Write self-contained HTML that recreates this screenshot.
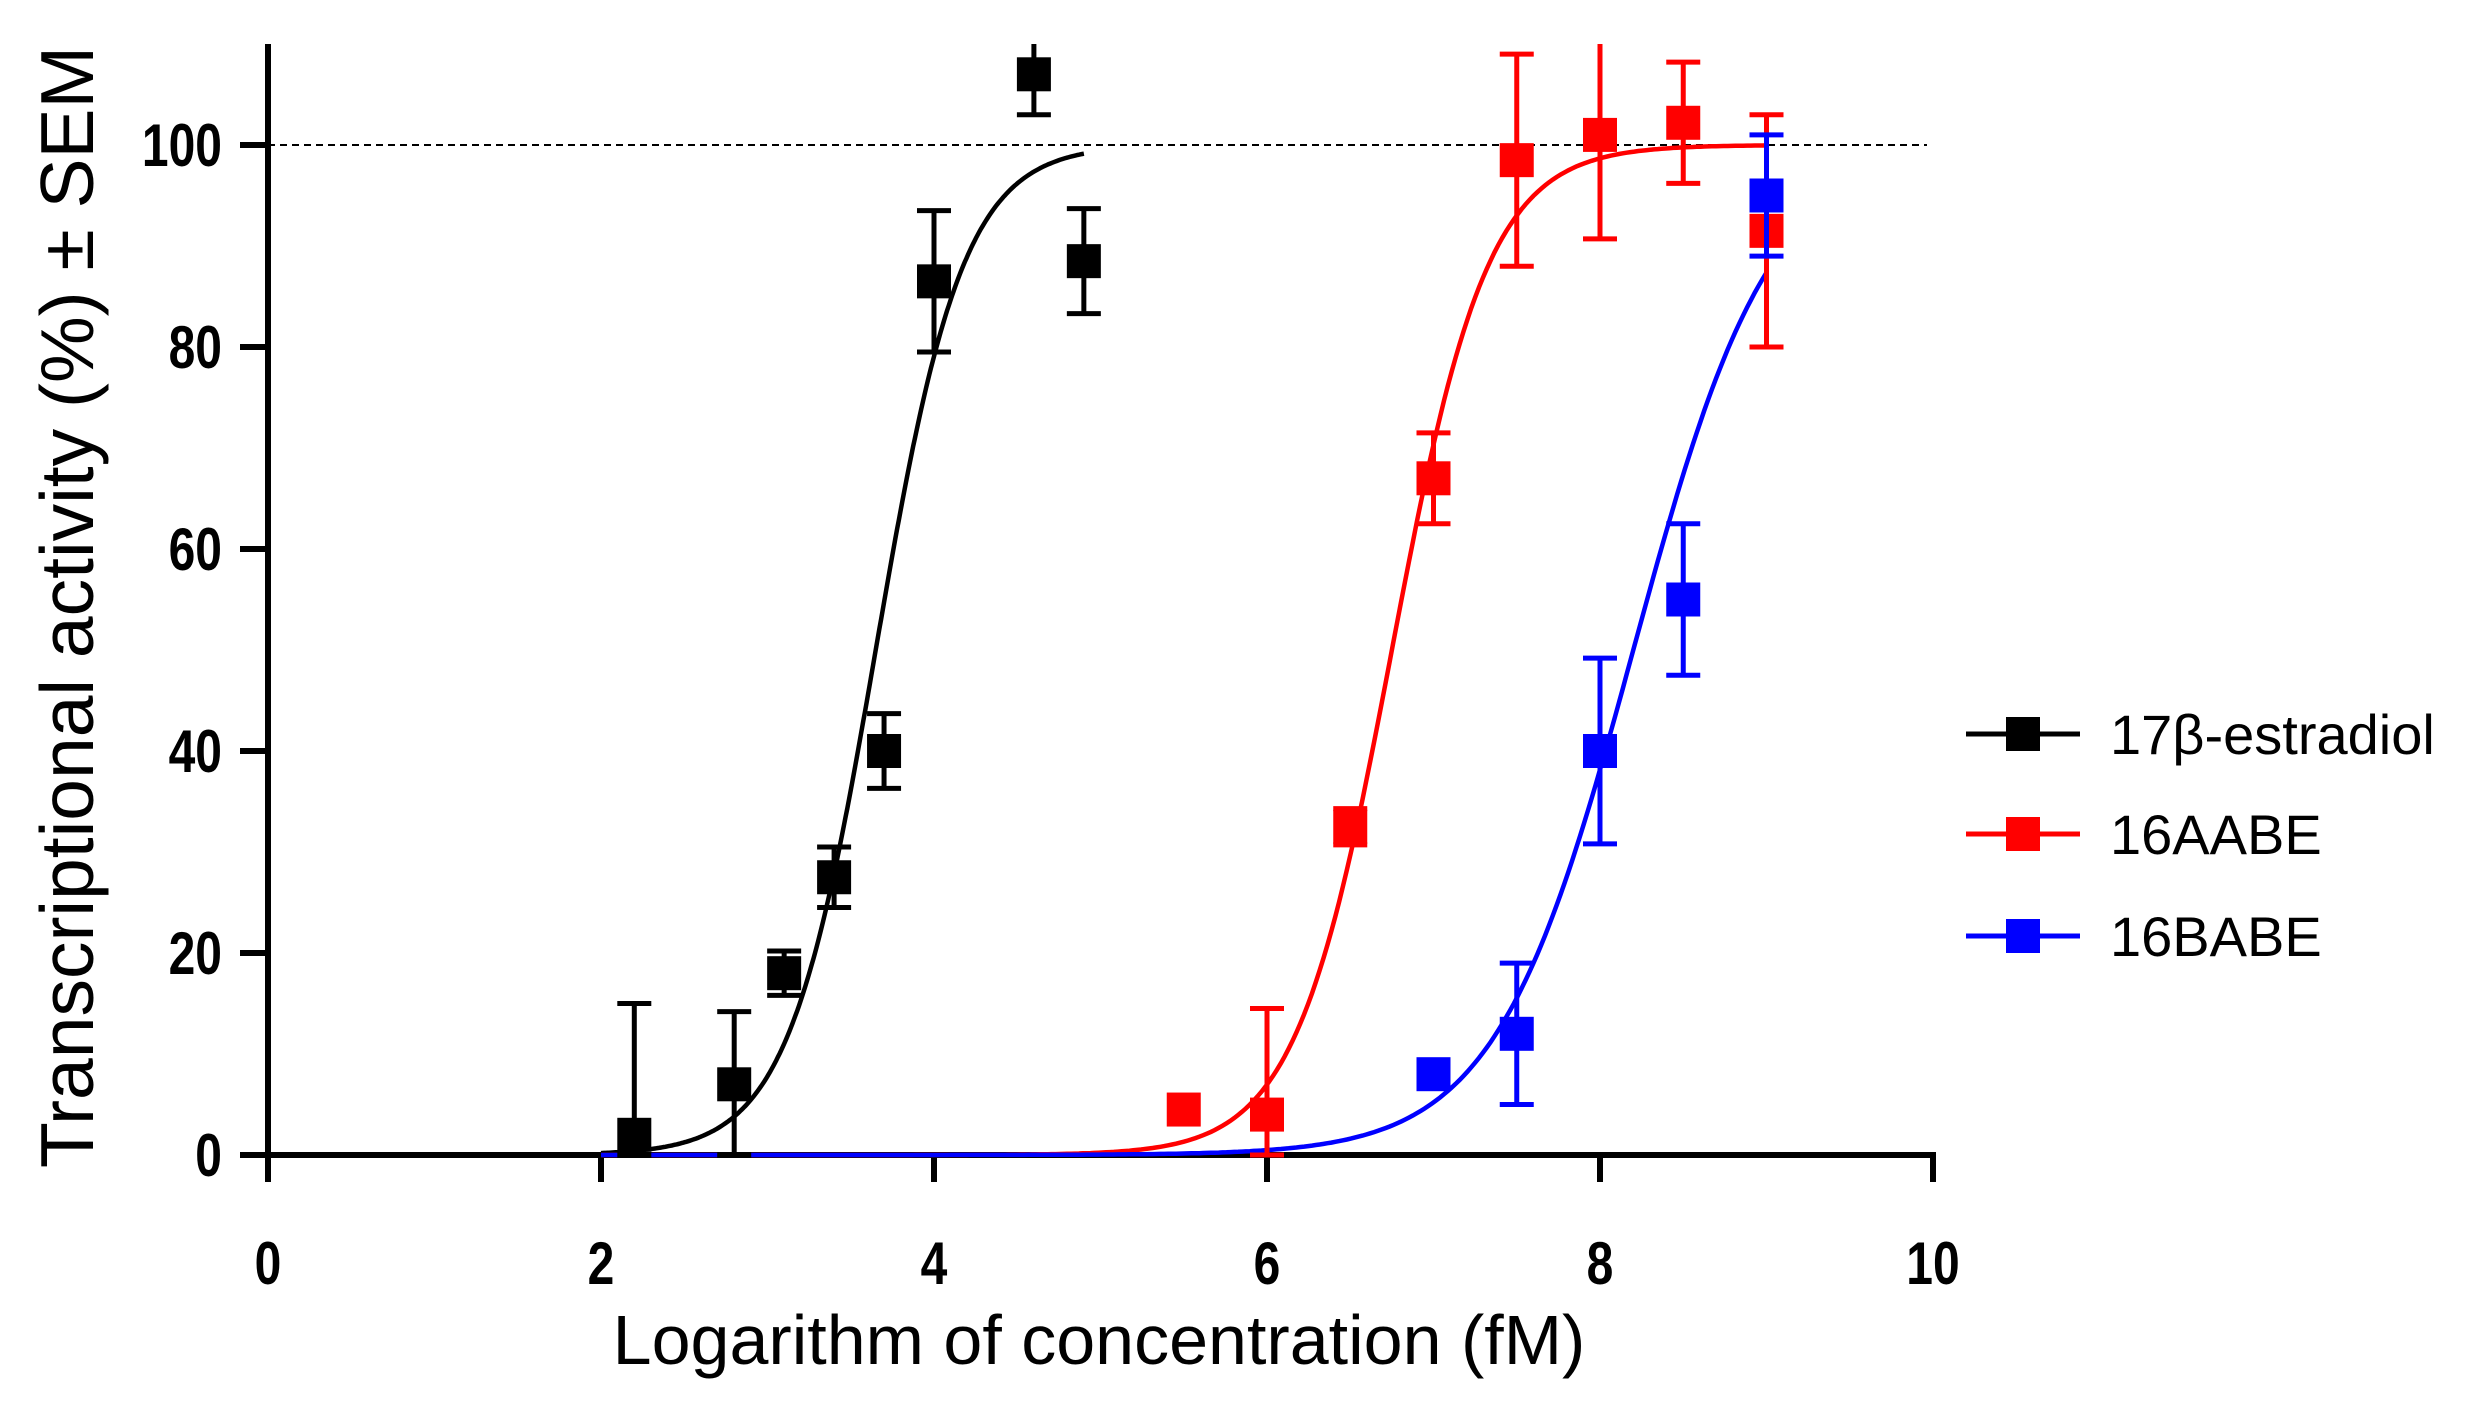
<!DOCTYPE html>
<html><head><meta charset="utf-8"><style>html,body{margin:0;padding:0;background:#fff}svg{display:block}</style></head>
<body>
<svg id="chart" width="2473" height="1402" viewBox="0 0 2473 1402" xmlns="http://www.w3.org/2000/svg" font-family="Liberation Sans, sans-serif">
<g id="axes"></g>
<g id="curves"></g>
<g id="points"></g>
<g id="legend"></g>
</svg>
<script>
const xTicks = [0, 2, 4, 6, 8, 10];
const yTicks = [0, 20, 40, 60, 80, 100];
const seriesNames = ["17β-estradiol", "16AABE", "16BABE"];
const seriesColors = ["#000000", "#ff0000", "#0000ff"];
const blackX = [2.2, 2.8, 3.1, 3.4, 3.7, 4.0, 4.6, 4.9];
const blackY = [2, 7, 18, 27.5, 40, 86.5, 107, 88.5];
const blackErr = [13, 7.2, 2.2, 3, 3.7, 7, 4, 5.2];
const redX = [5.5, 6, 6.5, 7, 7.5, 8, 8.5, 9];
const redY = [4.5, 4, 32.5, 67, 98.5, 101, 102.2, 91.5];
const redErr = [0, 10.5, 1.8, 4.5, 10.5, 10.3, 6, 11.5];
const blueX = [7, 7.5, 8, 8.5, 9];
const blueY = [8, 12, 40, 55, 95];
const blueErr = [0, 7, 9.2, 7.5, 6];
const fitEC50 = [3.65, 6.75, 8.2];
const fitHill = [1.65, 1.5, 1.05];
const fitRange = [[2, 4.9], [2, 9], [2, 9]];

const NS = "http://www.w3.org/2000/svg";
const X0 = 268, X1 = 1933, Y0 = 1155, Y100 = 145;
const sx = v => X0 + (X1 - X0) * v / 10;
const sy = v => Y0 - (Y0 - Y100) * v / 100;
function mk(tag, attrs, parent) {
  const e = document.createElementNS(NS, tag);
  for (const k in attrs) e.setAttribute(k, attrs[k]);
  parent.appendChild(e);
  return e;
}
const axes = document.getElementById('axes');
let e;
e = mk('line', {x1: sx(0), y1: sy(100), x2: 1927, y2: sy(100), stroke: '#000', 'stroke-width': 2, 'stroke-dasharray': '7,5'}, axes);


e = mk('line', {x1: X0, y1: 44, x2: X0, y2: Y0 + 3, stroke: '#000', 'stroke-width': 6}, axes);


e = mk('line', {x1: X0 - 3, y1: Y0, x2: X1 + 3, y2: Y0, stroke: '#000', 'stroke-width': 6}, axes);


yTicks.forEach(t => {
  const l = mk('line', {x1: 240, y1: sy(t), x2: X0, y2: sy(t), stroke: '#000', 'stroke-width': 6}, axes);
  
  
  const tx = mk('text', {x: 222, y: sy(t) + 21, 'text-anchor': 'end', 'font-size': 60, 'font-weight': 'bold', transform: `translate(222 0) scale(0.8 1) translate(-222 0)`}, axes);
  tx.textContent = t;
  
  
});
xTicks.forEach(t => {
  const l = mk('line', {x1: sx(t), y1: Y0, x2: sx(t), y2: 1182, stroke: '#000', 'stroke-width': 6}, axes);
  
  
  const tx = mk('text', {x: sx(t), y: 1284, 'text-anchor': 'middle', 'font-size': 60, 'font-weight': 'bold', transform: `translate(${sx(t)} 0) scale(0.8 1) translate(${-sx(t)} 0)`}, axes);
  tx.textContent = t;
  
  
});
e = mk('text', {x: 1099, y: 1364, 'text-anchor': 'middle', 'font-size': 70}, axes);
e.textContent = 'Logarithm of concentration (fM)';


e = mk('text', {x: 0, y: 0, 'text-anchor': 'middle', 'font-size': 75, transform: 'translate(93 607) rotate(-90)'}, axes);
e.textContent = 'Transcriptional activity (%) ± SEM';



const curves = document.getElementById('curves');
for (let s = 0; s < 3; s++) {
  let d = '';
  const [a, b] = fitRange[s];
  for (let i = 0; i <= 300; i++) {
    const x = a + (b - a) * i / 300;
    const y = 100 / (1 + Math.pow(10, (fitEC50[s] - x) * fitHill[s]));
    d += (i ? 'L' : 'M') + sx(x).toFixed(1) + ',' + sy(y).toFixed(1);
  }
  const p = mk('path', {d: d, fill: 'none', stroke: seriesColors[s], 'stroke-width': 4.5}, curves);
  
  
}
const pts = document.getElementById('points');
const allX = [blackX, redX, blueX], allY = [blackY, redY, blueY], allE = [blackErr, redErr, blueErr];
const TOP = 110;
for (let s = 0; s < 3; s++) {
  const g = mk('g', {}, pts);
  
  
  allX[s].forEach((x, i) => {
    const y = allY[s][i], er = allE[s][i], c = seriesColors[s];
    if (er > 0) {
      const hi = Math.min(y + er, TOP), lo = Math.max(y - er, 0);
      const eb = mk('path', {d: `M${sx(x)},${sy(hi)}L${sx(x)},${sy(lo)}` + (y + er <= TOP ? `M${sx(x)-17},${sy(hi)}L${sx(x)+17},${sy(hi)}` : '') + `M${sx(x)-17},${sy(lo)}L${sx(x)+17},${sy(lo)}`, stroke: c, 'stroke-width': 5, fill: 'none'}, g);
      
      
    }
    const r = mk('rect', {x: sx(x) - 17, y: sy(y) - 17, width: 34, height: 34, fill: c}, g);
    
    
  });
}
const leg = document.getElementById('legend');
const legY = [734, 834, 936];
for (let s = 0; s < 3; s++) {
  const g = mk('g', {}, leg);
  
  
  mk('line', {x1: 1966, y1: legY[s], x2: 2080, y2: legY[s], stroke: seriesColors[s], 'stroke-width': 5}, g);
  mk('rect', {x: 2006, y: legY[s] - 17, width: 34, height: 34, fill: seriesColors[s]}, g);
  const t = mk('text', {x: 2110, y: legY[s] + 20, 'font-size': 56}, g);
  t.textContent = seriesNames[s];
}
</script>
</body></html>
